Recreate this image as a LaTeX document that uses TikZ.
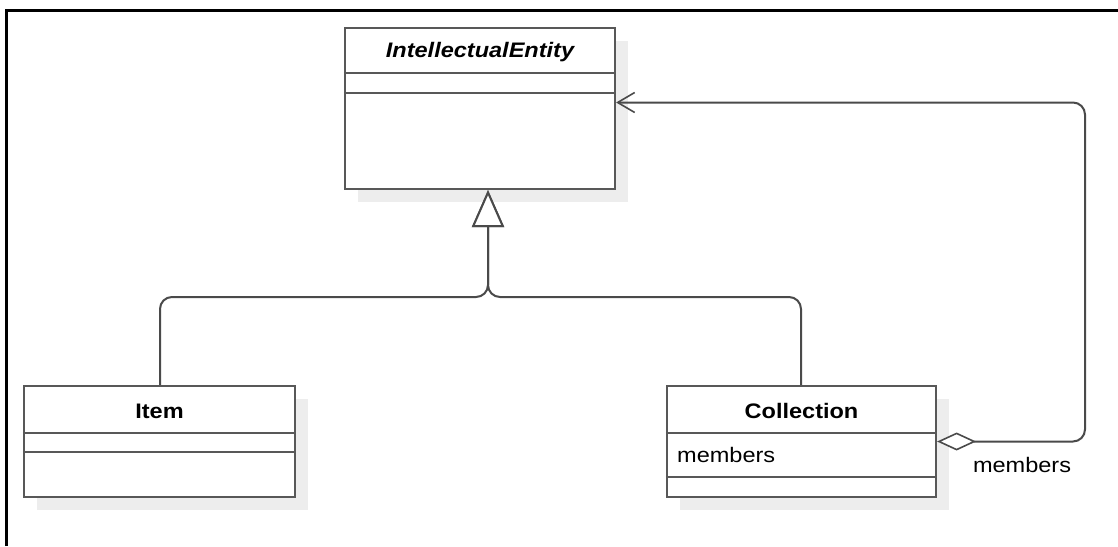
\documentclass[tikz,border=0pt]{standalone}
\usepackage{fontspec}
\setmainfont{Liberation Sans}[FakeStretch=1.12]
\usetikzlibrary{arrows.meta}
\definecolor{boxline}{HTML}{585858}
\definecolor{conline}{HTML}{4A4A4A}
\definecolor{shadowc}{HTML}{EDEDED}
\tikzset{
  cls/.style={draw=boxline, line width=2.2pt, fill=white, rectangle, inner sep=0pt},
  shadowbox/.style={fill=shadowc, draw=none},
  divider/.style={draw=boxline, line width=2.2pt},
  title/.style={font=\fontsize{21}{25}\selectfont\bfseries, inner sep=0pt},
  attr/.style={font=\fontsize{21}{25}\selectfont, inner sep=0pt},
  conn/.style={draw=conline, line width=2pt, rounded corners=12pt},
  frame/.style={draw=black, line width=3pt}
}
\begin{document}
\begin{tikzpicture}[x=1pt,y=-1pt]
\useasboundingbox (0,0) rectangle (1118,546);
\draw[frame] (6,546) -- (6,10) -- (1118,10);
% shadows
\fill[shadowc] (358,41) rectangle (628,202);
\fill[shadowc] (37,399) rectangle (308,510);
\fill[shadowc] (680,399) rectangle (949,510);
% IntellectualEntity
\node[cls, minimum width=270pt, minimum height=161pt] (ie) at (480,108.5) {};
\draw[divider] (ie.west |- 0,73) -- (ie.east |- 0,73);
\draw[divider] (ie.west |- 0,93) -- (ie.east |- 0,93);
\node[title, font=\fontsize{21}{25}\selectfont\bfseries\itshape] (ien) at (480,52) {IntellectualEntity};
% Item
\node[cls, minimum width=271pt, minimum height=111pt] (item) at (159.5,441.5) {};
\draw[divider] (item.west |- 0,433) -- (item.east |- 0,433);
\draw[divider] (item.west |- 0,452) -- (item.east |- 0,452);
\node[title] (itemn) at (159.5,411) {Item};
% Collection
\node[cls, minimum width=269pt, minimum height=111pt] (coll) at (801.5,441.5) {};
\draw[divider] (coll.west |- 0,433) -- (coll.east |- 0,433);
\draw[divider] (coll.west |- 0,477) -- (coll.east |- 0,477);
\node[title] (colln) at (801.5,411) {Collection};
\node[attr, anchor=west] (collm) at (677,455) {members};
% generalisation
\coordinate (gtip) at ([xshift=8pt]ie.south);
\draw[conn, -{Triangle[open, length=37pt, width=32pt, line width=2pt, fill=white]}]
  ([xshift=0.5pt]item.north) -- (160,297) -- (488,297) -- (gtip);
\draw[conn, -{Triangle[open, length=37pt, width=32pt, line width=2pt, fill=white]}]
  ([xshift=-0.5pt]coll.north) -- (801,297) -- (488,297) -- (gtip);
% aggregation / association
\coordinate (atip) at ([yshift=6pt]ie.east);
\draw[conn, {Diamond[open, length=39pt, width=18pt, line width=1.6pt, fill=white]}-{Straight Barb[length=17pt, width=20pt, line width=1.6pt]}]
  (coll.east) -- (1085,441.5) -- (1085,102.5) -- (atip);
\node[attr] (alab) at (1022,465) {members};
\end{tikzpicture}
\end{document}
